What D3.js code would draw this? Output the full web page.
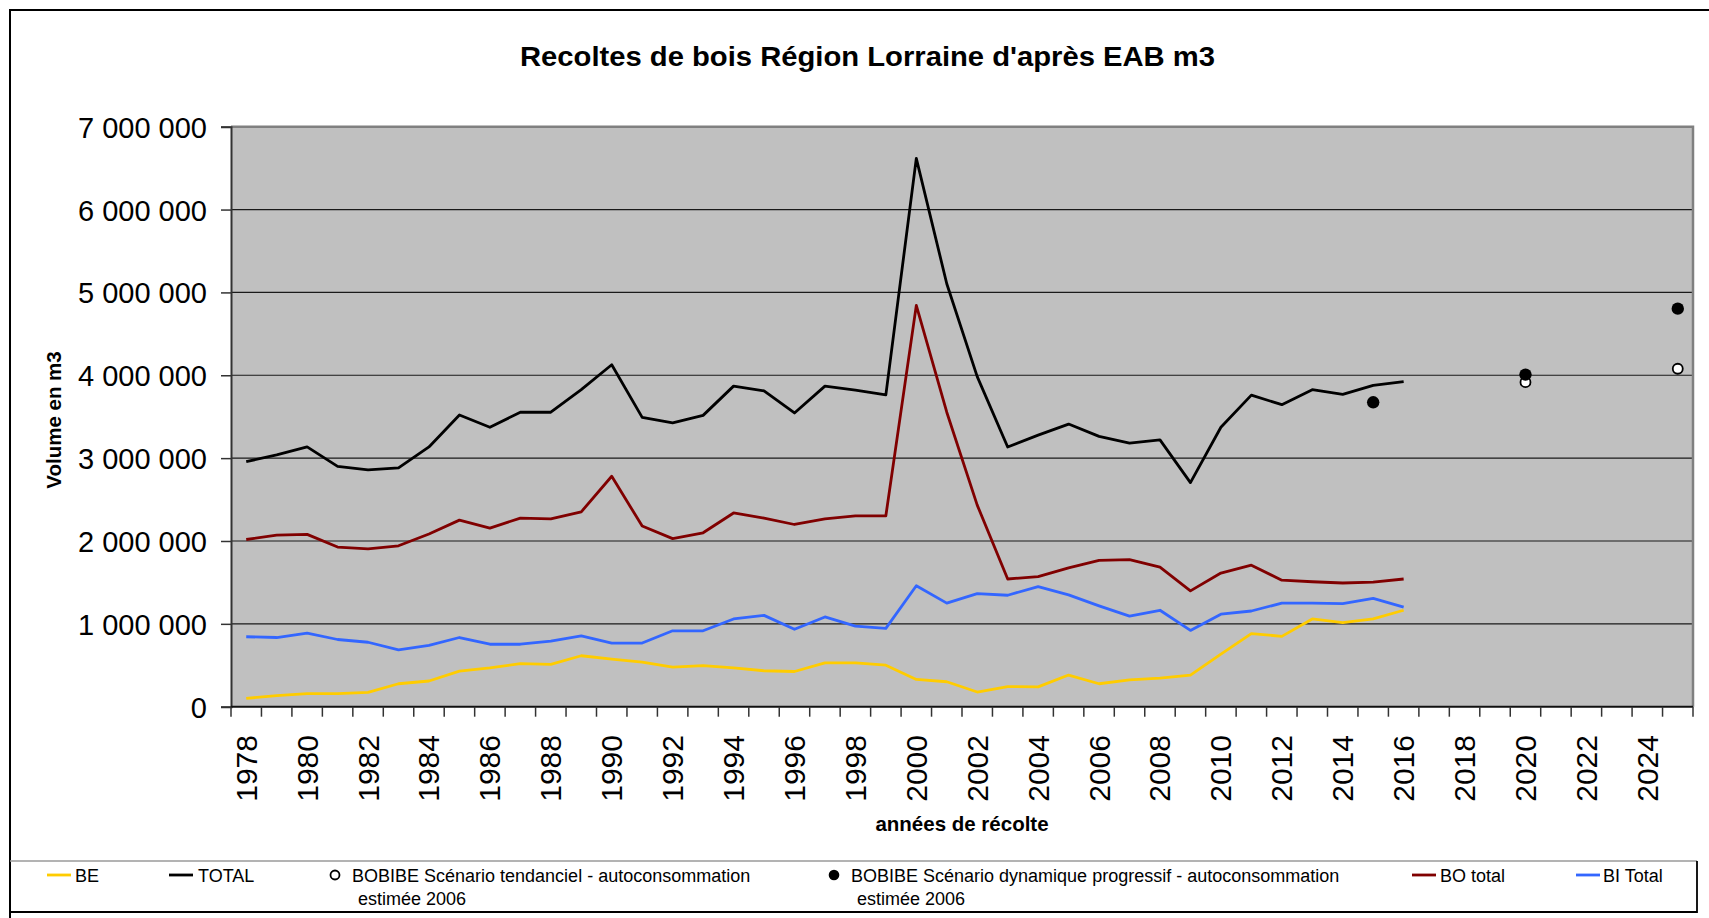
<!DOCTYPE html>
<html lang="fr">
<head>
<meta charset="utf-8">
<title>Recoltes de bois Région Lorraine</title>
<script src="https://cdn.jsdelivr.net/npm/d3@7"></script>
<style>
  html, body { margin: 0; padding: 0; background: #fff; }
  svg { display: block; font-family: "Liberation Sans", Arial, sans-serif; }
</style>
</head>
<body>
<svg id="chart" width="1709" height="918"></svg>
<script>
// Harvest years with recorded volumes
const years = d3.range(1978, 2017);
// Full category axis, including the projection years
const categories = d3.range(1978, 2026);
const tickYears = d3.range(1978, 2026, 2);
const yTicks = [0, 1000000, 2000000, 3000000, 4000000, 5000000, 6000000, 7000000];

// Volumes in m3
const totalValues = [2958000, 3039000, 3135000, 2901000, 2858000, 2882000, 3135000, 3521000, 3373000, 3554000,
  3554000, 3826000, 4127000, 3492000, 3426000, 3516000, 3869000, 3812000, 3545000, 3869000,
  3822000, 3764000, 6617000, 5105000, 3984000, 3135000, 3278000, 3411000, 3263000, 3182000,
  3220000, 2705000, 3373000, 3760000, 3645000, 3826000, 3769000, 3879000, 3922000];
const boValues = [2018000, 2071000, 2080000, 1927000, 1904000, 1942000, 2085000, 2252000, 2156000, 2276000,
  2266000, 2352000, 2781000, 2180000, 2028000, 2099000, 2338000, 2276000, 2199000, 2266000,
  2304000, 2304000, 4843000, 3554000, 2433000, 1541000, 1570000, 1675000, 1765000, 1775000,
  1684000, 1398000, 1613000, 1708000, 1527000, 1508000, 1493000, 1503000, 1541000];
const biValues = [844000, 835000, 887000, 811000, 778000, 687000, 740000, 835000, 754000, 754000,
  792000, 854000, 768000, 768000, 916000, 916000, 1059000, 1102000, 935000, 1083000,
  973000, 945000, 1460000, 1250000, 1365000, 1345000, 1450000, 1350000, 1217000, 1093000,
  1164000, 921000, 1116000, 1155000, 1250000, 1250000, 1245000, 1307000, 1202000];
const beValues = [100000, 134000, 157000, 157000, 172000, 277000, 310000, 429000, 468000, 520000,
  510000, 615000, 573000, 539000, 477000, 496000, 468000, 434000, 425000, 530000,
  530000, 501000, 329000, 301000, 177000, 243000, 239000, 382000, 277000, 324000,
  344000, 382000, 635000, 883000, 849000, 1059000, 1016000, 1059000, 1164000];

// BOBIBE scenarios (projection points)
const tendancielYears = [2020, 2025];
const tendancielValues = [3917000, 4079000];
const dynamiqueYears = [2015, 2020, 2025];
const dynamiqueValues = [3674000, 4008000, 4804000];

const seriesNames = ["BE", "TOTAL", "BOBIBE Scénario tendanciel - autoconsommation", "BOBIBE Scénario dynamique progressif - autoconsommation", "BO total", "BI Total"];

const svg = d3.select("#chart");
const plot = { left: 231, right: 1693, top: 126.7, bottom: 706.7 };

const x = d3.scaleBand().domain(categories).range([plot.left, plot.right]).padding(0);
const y = d3.scaleLinear().domain([0, 7000000]).range([plot.bottom, plot.top]);
const cx = yr => x(yr) + x.bandwidth() / 2;

// Outer chart frame (left and top edges)
svg.append("path")
  .attr("d", `M10,918 V10 H1709`)
  .attr("fill", "none").attr("stroke", "#000").attr("stroke-width", 2);

// Title
svg.append("text")
  .attr("x", 520).attr("y", 66)
  .attr("textLength", 695).attr("lengthAdjust", "spacingAndGlyphs")
  .style("font-size", "28px").style("font-weight", "bold")
  .text("Recoltes de bois Région Lorraine d'après EAB m3");

// Plot background
svg.append("rect")
  .attr("x", plot.left).attr("y", plot.top)
  .attr("width", plot.right - plot.left).attr("height", plot.bottom - plot.top)
  .attr("fill", "#c0c0c0");

// Horizontal gridlines
svg.append("g").selectAll("line").data(yTicks.filter(d => d > 0 && d < 7000000)).join("line")
  .attr("x1", plot.left).attr("x2", plot.right)
  .attr("y1", d => y(d)).attr("y2", d => y(d))
  .attr("stroke", "#1a1a1a").attr("stroke-width", 1.2);

// Plot border (top/right in grey)
svg.append("path")
  .attr("d", `M${plot.left},${plot.top} H${plot.right} V${plot.bottom}`)
  .attr("fill", "none").attr("stroke", "#808080").attr("stroke-width", 2.5);

// Y axis
const yAxis = d3.axisLeft(y).tickValues(yTicks).tickSize(10).tickPadding(14)
  .tickFormat(d => d3.format(",")(d).replace(/,/g, " "));
const gy = svg.append("g").attr("transform", `translate(${plot.left},0)`).call(yAxis);
gy.select(".domain").attr("stroke", "#333").attr("stroke-width", 2);
gy.selectAll(".tick line").attr("stroke", "#333").attr("stroke-width", 1.5);
gy.selectAll(".tick text").attr("fill", "#000").style("font-size", "29px")
  .style("font-family", "'Liberation Sans', Arial, sans-serif").attr("dy", "0.36em");

// X axis: ticks between categories, labels every two years
const gx = svg.append("g");
gx.append("line")
  .attr("x1", plot.left).attr("x2", plot.right)
  .attr("y1", plot.bottom).attr("y2", plot.bottom)
  .attr("stroke", "#111").attr("stroke-width", 2);
gx.selectAll("line.tk").data(categories.concat([2026])).join("line").attr("class", "tk")
  .attr("x1", d => d === 2026 ? plot.right : x(d)).attr("x2", d => d === 2026 ? plot.right : x(d))
  .attr("y1", plot.bottom).attr("y2", plot.bottom + 10)
  .attr("stroke", "#333").attr("stroke-width", 1.5);
gx.selectAll("text").data(tickYears).join("text")
  .attr("transform", d => `translate(${cx(d) + 10.5},${735}) rotate(-90)`)
  .attr("text-anchor", "end")
  .style("font-size", "30px")
  .text(d => d);

// Axis titles
svg.append("text")
  .attr("x", (plot.left + plot.right) / 2).attr("y", 831)
  .attr("text-anchor", "middle")
  .style("font-size", "20.5px").style("font-weight", "bold")
  .text("années de récolte");
svg.append("text")
  .attr("transform", `translate(61,420) rotate(-90)`)
  .attr("text-anchor", "middle")
  .style("font-size", "20.5px").style("font-weight", "bold")
  .text("Volume en m3");

// Series lines
const line = d3.line().x(d => cx(d[0])).y(d => y(d[1]));
const lineSeries = [
  { values: beValues, color: "#ffcc00" },
  { values: biValues, color: "#3366ff" },
  { values: boValues, color: "#800000" },
  { values: totalValues, color: "#000000" }
];
svg.append("g").selectAll("path").data(lineSeries).join("path")
  .attr("d", s => line(years.map((yr, i) => [yr, s.values[i]])))
  .attr("fill", "none").attr("stroke", s => s.color).attr("stroke-width", 2.8)
  .attr("stroke-linejoin", "round");

// Scenario markers
svg.append("g").selectAll("circle").data(tendancielYears.map((yr, i) => [yr, tendancielValues[i]])).join("circle")
  .attr("cx", d => cx(d[0])).attr("cy", d => y(d[1])).attr("r", 5)
  .attr("fill", "#fff").attr("stroke", "#000").attr("stroke-width", 1.8);
svg.append("g").selectAll("circle").data(dynamiqueYears.map((yr, i) => [yr, dynamiqueValues[i]])).join("circle")
  .attr("cx", d => cx(d[0])).attr("cy", d => y(d[1])).attr("r", 6.2)
  .attr("fill", "#000");

// Legend box
const legend = svg.append("g");
legend.append("line").attr("x1", 10).attr("x2", 1697).attr("y1", 861).attr("y2", 861)
  .attr("stroke", "#9a9a9a").attr("stroke-width", 1.5);
legend.append("path").attr("d", "M1697,861 V912 H10")
  .attr("fill", "none").attr("stroke", "#000").attr("stroke-width", 1.8);

const legendY = 875;
const legendItems = [
  { name: seriesNames[0], type: "line", color: "#ffcc00", sx: 47, tx: 75 },
  { name: seriesNames[1], type: "line", color: "#000000", sx: 169, tx: 198 },
  { name: seriesNames[2], type: "open", sx: 335, tx: 352, tx2: 358 },
  { name: seriesNames[3], type: "filled", sx: 834, tx: 851, tx2: 857 },
  { name: seriesNames[4], type: "line", color: "#800000", sx: 1412, tx: 1440 },
  { name: seriesNames[5], type: "line", color: "#3366ff", sx: 1576, tx: 1603 }
];
legendItems.forEach(it => {
  if (it.type === "line") {
    legend.append("line").attr("x1", it.sx).attr("x2", it.sx + 24)
      .attr("y1", legendY).attr("y2", legendY)
      .attr("stroke", it.color).attr("stroke-width", 2.8);
  } else if (it.type === "open") {
    legend.append("circle").attr("cx", it.sx).attr("cy", legendY).attr("r", 4.5)
      .attr("fill", "#fff").attr("stroke", "#000").attr("stroke-width", 1.8);
  } else {
    legend.append("circle").attr("cx", it.sx).attr("cy", legendY).attr("r", 5.3).attr("fill", "#000");
  }
  legend.append("text").attr("x", it.tx).attr("y", 882)
    .style("font-size", "18px").text(it.name);
  if (it.tx2) {
    legend.append("text").attr("x", it.tx2).attr("y", 905)
      .style("font-size", "18px").text("estimée 2006");
  }
});
</script>
</body>
</html>
